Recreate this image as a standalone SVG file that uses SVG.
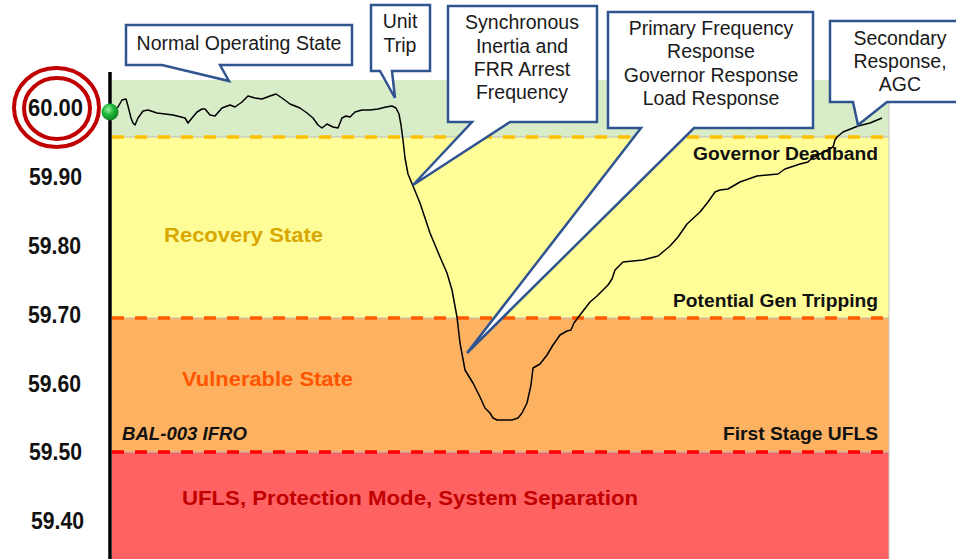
<svg xmlns="http://www.w3.org/2000/svg" width="956" height="559" viewBox="0 0 956 559">
  <defs>
    <radialGradient id="dotFill" cx="0.4" cy="0.35" r="0.7">
      <stop offset="0" stop-color="#9CF09C"/>
      <stop offset="0.45" stop-color="#1FB83A"/>
      <stop offset="1" stop-color="#0A7A1E"/>
    </radialGradient>
    <style>
      .axis { font-family: "Liberation Sans", Arial, sans-serif; font-weight: bold; font-size: 23px; fill: #111; text-anchor: end; }
      .band { font-family: "Liberation Sans", Arial, sans-serif; font-weight: bold; }
      .note { font-family: "Liberation Sans", Arial, sans-serif; font-weight: bold; font-size: 18px; fill: #111; text-anchor: end; }
      .callout path { fill: #FFFFFF; stroke: #2F5490; stroke-width: 2.5; stroke-linejoin: miter; }
      .callout text { font-family: "Liberation Sans", Arial, sans-serif; font-size: 19.5px; fill: #1A1A1A; text-anchor: middle; }
      .grid { stroke: #BDBDBD; stroke-width: 1; }
      .dash { stroke-width: 3.5; stroke-dasharray: 12 11; fill: none; }
    </style>
  </defs>

  <rect width="956" height="559" fill="#FFFFFF"/>

  <!-- frequency bands -->
  <g id="bands">
    <rect x="112" y="80" width="777" height="57" fill="#D8ECC8"/>
    <rect x="112" y="137" width="777" height="181" fill="#FFFD98"/>
    <rect x="112" y="318" width="777" height="134" fill="#FDB262"/>
    <rect x="112" y="452" width="777" height="107" fill="#FF6262"/>
    <line x1="889" y1="80" x2="889" y2="559" stroke="#C8C8C8" stroke-width="1"/>
  </g>

  <!-- threshold lines -->
  <g id="thresholds">
    <line class="grid" x1="112" y1="137" x2="889" y2="137"/>
    <line class="grid" x1="112" y1="318" x2="889" y2="318"/>
    <line class="grid" x1="112" y1="452" x2="889" y2="452"/>
    <line class="dash" x1="112" y1="137" x2="891" y2="137" stroke="#FFC000"/>
    <line class="dash" x1="112" y1="318" x2="891" y2="318" stroke="#FF5A00"/>
    <line class="dash" x1="112" y1="452" x2="891" y2="452" stroke="#FF0000"/>
  </g>

  <!-- band labels -->
  <g id="band-labels">
    <text class="band" x="164" y="242" font-size="20" fill="#D9A800" textLength="159" lengthAdjust="spacingAndGlyphs">Recovery State</text>
    <text class="band" x="182" y="386" font-size="21" fill="#FF5500" textLength="171" lengthAdjust="spacingAndGlyphs">Vulnerable State</text>
    <text class="band" x="182" y="505" font-size="21" fill="#C00000" textLength="456" lengthAdjust="spacingAndGlyphs">UFLS, Protection Mode, System Separation</text>
    <text class="note" x="878" y="160" textLength="185" lengthAdjust="spacingAndGlyphs">Governor Deadband</text>
    <text class="note" x="878" y="307" textLength="205" lengthAdjust="spacingAndGlyphs">Potential Gen Tripping</text>
    <text class="note" x="878" y="440" textLength="155" lengthAdjust="spacingAndGlyphs">First Stage UFLS</text>
    <text class="band" x="122" y="440" font-size="18" font-style="italic" fill="#111" textLength="125" lengthAdjust="spacingAndGlyphs">BAL-003 IFRO</text>
  </g>

  <!-- frequency axis -->
  <g id="axis">
    <line x1="110" y1="72" x2="110" y2="559" stroke="#000" stroke-width="3.5"/>
    <text class="axis" x="83" y="116" font-size="24" textLength="55" lengthAdjust="spacingAndGlyphs">60.00</text>
    <text class="axis" x="82" y="185" textLength="53" lengthAdjust="spacingAndGlyphs">59.90</text>
    <text class="axis" x="81" y="254" textLength="53" lengthAdjust="spacingAndGlyphs">59.80</text>
    <text class="axis" x="81" y="323" textLength="53" lengthAdjust="spacingAndGlyphs">59.70</text>
    <text class="axis" x="81" y="392" textLength="53" lengthAdjust="spacingAndGlyphs">59.60</text>
    <text class="axis" x="82" y="460" textLength="53" lengthAdjust="spacingAndGlyphs">59.50</text>
    <text class="axis" x="84" y="529" textLength="53" lengthAdjust="spacingAndGlyphs">59.40</text>
    <ellipse cx="56.5" cy="107.5" rx="42.5" ry="39.5" fill="none" stroke="#C00000" stroke-width="4"/>
    <ellipse cx="57" cy="108.5" rx="33" ry="30.5" fill="none" stroke="#C00000" stroke-width="4"/>
  </g>

  <!-- frequency trace -->
  <g id="connectors">
    <path d="M112,111 L118,107 L122,100 L126,99 L128,106 L131,118 L133,123 L135,125 L138,118 L143,111 L148,110 L157,113 L173,115 L185,118 L188,123 L192,118 L197,112 L202,109 L205,109 L210,115 L215,116 L222,108 L230,105 L235,107 L242,102 L248,96 L255,98 L262,99 L270,96 L276,94 L282,98 L290,104 L300,108 L307,113 L313,118 L318,125 L322,128 L327,124 L333,127 L338,128 L342,118 L346,116 L350,117 L355,112 L362,110 L370,110 L378,109 L386,107 L392,106 L396,108 L399,114 L401,125 L403,140 L405,158 L408,174 L413,186 L420,203 L430,233 L440,257 L447,273 L452,290 L457,317 L460,343 L465,370 L473,383 L480,397 L485,408 L490,413 L493,418 L497,420 L512,420 L518,418 L522,413 L527,403 L531,385 L533,368 L540,364 L547,355 L553,345 L560,335 L567,331 L571,330 L574,323 L580,315 L590,302 L597,296 L603,290 L608,285 L612,279 L615,270 L623,262 L643,260 L658,256 L670,246 L678,237 L687,224 L700,212 L708,202 L715,192 L720,190 L728,189 L740,182 L757,176 L778,174 L785,169 L800,164 L808,162 L813,157 L822,153 L833,147 L835,140 L837,137 L843,132 L858,126 L870,123 L882,118" fill="none" stroke="#000" stroke-width="1.5" stroke-linejoin="round"/>
    <circle cx="110" cy="112" r="8.5" fill="url(#dotFill)"/>
  </g>

  <!-- callouts -->
  <g id="normal-state" class="callout">
    <path d="M126,25 H352 V65 H220 L229,81 L162,65 H126 Z"/>
    <text x="239" y="50">Normal Operating State</text>
  </g>
  <g id="unit-trip" class="callout">
    <path d="M371,5 H430 V71 H392 L395,98 L380,71 H371 Z"/>
    <text x="400" y="28">Unit</text>
    <text x="400" y="52">Trip</text>
  </g>
  <g id="inertia" class="callout">
    <path d="M448,6 H597 V122 H510 L413,185 L472,122 H448 Z"/>
    <text x="522" y="29">Synchronous</text>
    <text x="522" y="53">Inertia and</text>
    <text x="522" y="76">FRR Arrest</text>
    <text x="522" y="99">Frequency</text>
  </g>
  <g id="primary-response" class="callout">
    <path d="M608,12 H813 V128 H694 L467,353 L641,128 H608 Z"/>
    <text x="711" y="35">Primary Frequency</text>
    <text x="711" y="58">Response</text>
    <text x="711" y="82">Governor Response</text>
    <text x="711" y="105">Load Response</text>
  </g>
  <g id="secondary-response" class="callout">
    <path d="M830,21 H962 V102 H887 L858,125 L853,102 H830 Z"/>
    <text x="900" y="45">Secondary</text>
    <text x="900" y="68">Response,</text>
    <text x="900" y="91">AGC</text>
  </g>
</svg>
